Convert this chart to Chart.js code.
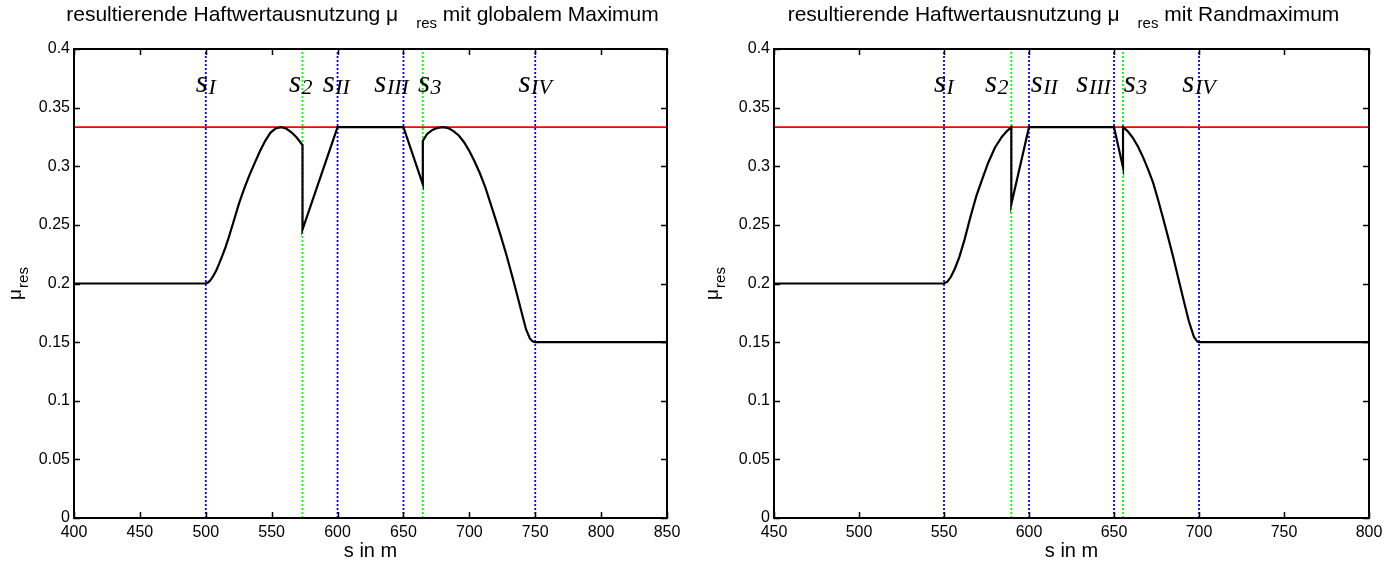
<!DOCTYPE html>
<html>
<head>
<meta charset="utf-8">
<script src="https://cdn.jsdelivr.net/npm/chart.js@4.4.1/dist/chart.umd.min.js"></script>
<style>
  body { margin: 0; background: #fff; }
  #wrap { position: relative; width: 1395px; height: 562px; }
  canvas { position: absolute; top: 0; }
</style>
</head>
<body>
<div id="wrap">
  <canvas id="left" width="697" height="562" style="left:0"></canvas>
  <canvas id="right" width="698" height="562" style="left:697px"></canvas>
</div>
<script>
// left plot: global maximum
const leftS = [400, 500, 502, 504, 506, 508, 510, 512.5, 515, 517.5, 521, 525, 529, 533, 537, 541, 545, 549, 553, 557, 561, 565, 569, 573.4,
  573.4, 600, 650, 664.7,
  664.7, 668, 672, 676, 680, 684, 688, 692, 696, 700, 704, 708, 712, 716, 720, 724, 728, 732, 736, 740, 743, 746, 748, 750, 850];
const leftMu = [0.2, 0.2, 0.201, 0.2035, 0.207, 0.2113, 0.2165, 0.2235, 0.231, 0.2395, 0.2525, 0.2675, 0.2805, 0.292, 0.3025, 0.3125, 0.3215, 0.3285, 0.3322, 0.3333, 0.3322, 0.329, 0.3245, 0.318,
  0.246, 0.3333, 0.3333, 0.2846,
  0.3217, 0.3275, 0.331, 0.3328, 0.3333, 0.3325, 0.33, 0.3262, 0.3205, 0.313, 0.304, 0.294, 0.2825, 0.2685, 0.2545, 0.24, 0.225, 0.2085, 0.1915, 0.174, 0.161, 0.153, 0.1508, 0.15, 0.15];
const leftBlue = [500, 600, 650, 750];
const leftGreen = [573.4, 664.7];
const leftLabelAt = [500, 572, 599, 641, 670, 750];

// right plot: boundary maximum
const rightS = [450, 550, 552, 554, 556.5, 559, 562, 565.5, 569, 572.5, 576, 580, 584, 587, 589.6,
  589.6, 600, 650, 655.3,
  655.3, 658, 661, 664, 667, 670, 673, 676, 679, 682, 685, 688, 691, 694, 697, 699, 700, 800];
const rightMu = [0.2, 0.2, 0.2015, 0.2055, 0.213, 0.2225, 0.237, 0.2565, 0.2745, 0.289, 0.303, 0.316, 0.325, 0.33, 0.3333,
  0.2675, 0.3333, 0.3333, 0.299,
  0.3333, 0.33, 0.3245, 0.317, 0.308, 0.2975, 0.286, 0.271, 0.255, 0.2385, 0.2215, 0.2035, 0.1855, 0.168, 0.1545, 0.1505, 0.15, 0.15];
const rightBlue = [550, 600, 650, 700];
const rightGreen = [589.6, 655.3];
const rightLabelAt = [550, 581, 609, 638, 662.6, 700];

const labelSubs = ['I', '2', 'II', 'III', '3', 'IV'];
const labelMu = 0.363;
const muLimit = 1 / 3;
const muTicks = [0, 0.05, 0.1, 0.15, 0.2, 0.25, 0.3, 0.35, 0.4];

const sans = '"Liberation Sans", Arial, sans-serif';
const serif = '"Liberation Serif", "Times New Roman", serif';

function pts(xs, ys) { return xs.map((x, i) => ({x: x, y: ys[i]})); }

function vline(x, color) {
  return {
    data: [{x: x, y: 0}, {x: x, y: 0.4}],
    borderColor: color, borderWidth: 1.8, borderDash: [2, 2],
    pointRadius: 0, order: 1
  };
}

// text with a lowered subscript, pieces: [text, font, dx, dy]
function drawPieces(ctx, x, y, pieces, align) {
  let w = 0;
  pieces.forEach(p => { ctx.font = p[1]; w += (p[2] || 0) + ctx.measureText(p[0]).width; });
  let cx = align === 'center' ? x - w / 2 : x;
  ctx.textAlign = 'left';
  ctx.textBaseline = 'alphabetic';
  pieces.forEach(p => {
    ctx.font = p[1];
    cx += p[2] || 0;
    ctx.fillText(p[0], cx, y + (p[3] || 0));
    cx += ctx.measureText(p[0]).width;
  });
}

const decor = {
  id: 'decor',
  afterDraw(chart, args, o) {
    const ctx = chart.ctx, a = chart.chartArea;
    const xs = chart.scales.x, ys = chart.scales.y;
    ctx.save();
    ctx.strokeStyle = '#000';
    ctx.fillStyle = '#000';
    ctx.lineWidth = 2;
    ctx.strokeRect(a.left, a.top, a.right - a.left, a.bottom - a.top);
    ctx.lineWidth = 1.5;
    const tl = 6;
    ctx.beginPath();
    for (let v = o.xmin; v <= o.xmax; v += 50) {
      const px = Math.round(xs.getPixelForValue(v)) + 0.5;
      ctx.moveTo(px, a.bottom); ctx.lineTo(px, a.bottom - tl);
      ctx.moveTo(px, a.top); ctx.lineTo(px, a.top + tl);
    }
    muTicks.forEach(v => {
      const py = Math.round(ys.getPixelForValue(v)) + 0.5;
      ctx.moveTo(a.left, py); ctx.lineTo(a.left + tl, py);
      ctx.moveTo(a.right, py); ctx.lineTo(a.right - tl, py);
    });
    ctx.stroke();

    // s markers
    o.labelAt.forEach((v, i) => {
      drawPieces(ctx, xs.getPixelForValue(v), ys.getPixelForValue(labelMu), [
        ['s', 'italic 31px ' + serif, 0, 0],
        [labelSubs[i], 'italic 22px ' + serif, 0.5, 2]
      ], 'center');
    });

    // title
    const cx = (a.left + a.right) / 2;
    drawPieces(ctx, cx - 8, 21, [
      ['resultierende Haftwertausnutzung \u03bc', '21px ' + sans, 0, 0],
      ['res', '15px ' + sans, 18, 7],
      [' ' + o.title, '21px ' + sans, 0, 0]
    ], 'center');

    // x title
    drawPieces(ctx, cx, 557, [['s in m', '20px ' + sans, 0, 0]], 'center');

    // y title
    ctx.translate(21, (a.top + a.bottom) / 2);
    ctx.rotate(-Math.PI / 2);
    drawPieces(ctx, 0, 0, [
      ['\u03bc', '19px ' + sans, 0, 0],
      ['res', '15px ' + sans, 1, 7]
    ], 'center');
    ctx.restore();
  }
};

function makeChart(id, sx, mu, blue, green, labelAt, xmin, xmax, yWidth, padRight, title) {
  const ds = [{
    data: pts(sx, mu), borderColor: '#000', borderWidth: 2.2,
    pointRadius: 0, tension: 0, order: 0
  }, {
    data: [{x: xmin, y: muLimit}, {x: xmax, y: muLimit}],
    borderColor: '#ff0000', borderWidth: 1.8, pointRadius: 0, order: 0.5
  }];
  blue.forEach(v => ds.push(vline(v, '#0000ff')));
  green.forEach(v => ds.push(vline(v, '#00ff00')));

  return new Chart(document.getElementById(id), {
    type: 'line',
    data: {datasets: ds},
    options: {
      responsive: false,
      animation: false,
      events: [],
      layout: {padding: {top: 49, right: padRight, left: 0, bottom: 0}},
      plugins: {legend: {display: false}, tooltip: {enabled: false},
        decor: {xmin: xmin, xmax: xmax, labelAt: labelAt, title: title}},
      scales: {
        x: {
          type: 'linear', min: xmin, max: xmax,
          grid: {display: false, drawTicks: false}, border: {display: false},
          ticks: {stepSize: 50, color: '#000', padding: 5, maxRotation: 0,
            font: {family: sans, size: 16}},
          afterFit: s => { s.height = 44; }
        },
        y: {
          min: 0, max: 0.4,
          grid: {display: false, drawTicks: false}, border: {display: false},
          afterBuildTicks: s => { s.ticks = muTicks.map(v => ({value: v})); },
          ticks: {color: '#000', padding: 4, font: {family: sans, size: 16},
            callback: v => String(Math.round(v * 100) / 100)},
          afterFit: s => { s.width = yWidth; }
        }
      }
    },
    plugins: [decor]
  });
}

makeChart('left', leftS, leftMu, leftBlue, leftGreen, leftLabelAt, 400, 850, 74, 30, 'mit globalem Maximum');
makeChart('right', rightS, rightMu, rightBlue, rightGreen, rightLabelAt, 450, 800, 77, 26, 'mit Randmaximum');
</script>
</body>
</html>
